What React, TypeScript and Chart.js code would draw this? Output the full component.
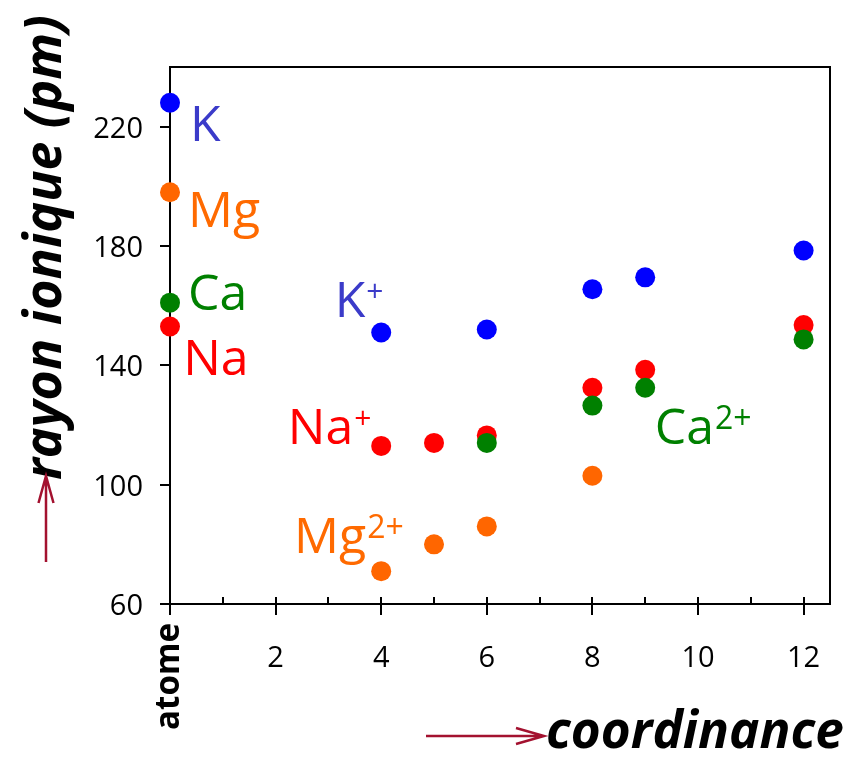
import React, { useEffect, useRef } from "react";
import { Chart, registerables } from "chart.js";

Chart.register(...registerables);

// ---- data ----
const xTickValues = [2, 4, 6, 8, 10, 12];
const xMinorTickValues = [1, 3, 5, 7, 9, 11];
const yTickValues = [60, 100, 140, 180, 220];
const atomCategoryLabel = "atome";

const atomNames = ["K", "Mg", "Ca", "Na"];
const atomRadii = [228, 198, 161, 153];

const kCoord = [4, 6, 8, 9, 12];
const kIonRadii = [151, 152, 165.5, 169.5, 178.5];
const naCoord = [4, 5, 6, 8, 9, 12];
const naIonRadii = [113, 114, 116.5, 132.5, 138.5, 153.5];
const caCoord = [6, 8, 9, 12];
const caIonRadii = [114, 126.5, 132.5, 148.7];
const mgCoord = [4, 5, 6, 8];
const mgIonRadii = [71, 80, 86, 103];

const yTitle = "rayon ionique (pm)";
const xTitle = "coordinance";

// ---- styles ----
const COLORS: Record<string, string> = { K: "#0000ff", Na: "#ff0000", Ca: "#008000", Mg: "#ff6600" };
const LABEL_COLORS: Record<string, string> = { K: "#3b3bc9", Na: "#ff0000", Ca: "#008000", Mg: "#ff6a00" };
const ARROW = "#a3112f";
const FONT = '"Comic Sans MS", "Open Sans", sans-serif';

// label anchors (left, baseline) in data coordinates
const annotations = [
  { el: "K", text: "K", sup: "", x: 0.38, y: 215.2 },
  { el: "Mg", text: "Mg", sup: "", x: 0.34, y: 186.5 },
  { el: "Ca", text: "Ca", sup: "", x: 0.34, y: 158.5 },
  { el: "Na", text: "Na", sup: "", x: 0.25, y: 136.6 },
  { el: "K", text: "K", sup: "+", x: 3.12, y: 156.2 },
  { el: "Na", text: "Na", sup: "+", x: 2.23, y: 113.7 },
  { el: "Mg", text: "Mg", sup: "2+", x: 2.35, y: 77 },
  { el: "Ca", text: "Ca", sup: "2+", x: 9.18, y: 113.7 },
];

function series(name: string, coords: number[], radii: number[]) {
  const i = atomNames.indexOf(name);
  return [{ x: 0, y: atomRadii[i] }, ...coords.map((c, j) => ({ x: c, y: radii[j] }))];
}

function fitSize(ctx: CanvasRenderingContext2D, text: string, style: string, target: number) {
  ctx.font = `${style} 100px ${FONT}`;
  const w = ctx.measureText(text).width;
  return (100 * target) / w;
}

const decorPlugin = {
  id: "decor",
  beforeDatasetsDraw(chart: any) {
    const ctx = chart.ctx as CanvasRenderingContext2D;
    const { left, right, top, bottom } = chart.chartArea;
    const xs = chart.scales.x;
    const ys = chart.scales.y;
    ctx.save();
    ctx.strokeStyle = "#000";
    ctx.lineWidth = 2;
    ctx.beginPath();
    ctx.moveTo(left, top);
    ctx.lineTo(right, top);
    ctx.lineTo(right, bottom);
    ctx.stroke();
    // x major ticks (including 0)
    [0, ...xTickValues].forEach((v) => {
      const px = Math.round(xs.getPixelForValue(v));
      ctx.beginPath();
      ctx.moveTo(px, v === 0 ? bottom : bottom - 7);
      ctx.lineTo(px, bottom + 11);
      ctx.stroke();
    });
    xMinorTickValues.forEach((v) => {
      const px = Math.round(xs.getPixelForValue(v));
      ctx.beginPath();
      ctx.moveTo(px, bottom - 7);
      ctx.lineTo(px, bottom);
      ctx.stroke();
    });
    yTickValues.forEach((v) => {
      const py = Math.round(ys.getPixelForValue(v));
      ctx.beginPath();
      ctx.moveTo(left - 10, py);
      ctx.lineTo(left, py);
      ctx.stroke();
    });
    ctx.restore();
  },
  afterDraw(chart: any) {
    const ctx = chart.ctx as CanvasRenderingContext2D;
    const { left, bottom } = chart.chartArea;
    const xs = chart.scales.x;
    const ys = chart.scales.y;
    ctx.save();
    // tick labels
    ctx.fillStyle = "#000";
    ctx.font = `29px ${FONT}`;
    ctx.textBaseline = "alphabetic";
    ctx.textAlign = "right";
    yTickValues.forEach((v) => {
      ctx.fillText(String(v), left - 27, ys.getPixelForValue(v) + 11);
    });
    ctx.textAlign = "center";
    xTickValues.forEach((v) => {
      ctx.fillText(String(v), xs.getPixelForValue(v), bottom + 63);
    });
    // "atome" rotated
    const aSize = fitSize(ctx, atomCategoryLabel, "bold", 107);
    ctx.save();
    ctx.translate(xs.getPixelForValue(0), bottom + 19);
    ctx.rotate(-Math.PI / 2);
    ctx.font = `bold ${aSize}px ${FONT}`;
    ctx.textAlign = "right";
    ctx.textBaseline = "middle";
    ctx.fillText(atomCategoryLabel, 0, 0);
    ctx.restore();

    // element labels
    annotations.forEach((a) => {
      const px = xs.getPixelForValue(a.x);
      const py = ys.getPixelForValue(a.y);
      ctx.fillStyle = LABEL_COLORS[a.el];
      ctx.textAlign = "left";
      ctx.textBaseline = "alphabetic";
      ctx.font = `50px ${FONT}`;
      ctx.fillText(a.text, px, py);
      if (a.sup) {
        const w = ctx.measureText(a.text).width;
        ctx.font = `${a.sup === "+" ? 30 : 32}px ${FONT}`;
        ctx.fillText(a.sup, px + w + 1, py - (a.sup === "+" ? 16 : 15));
      }
    });

    // axis titles
    ctx.fillStyle = "#000";
    const ySize = fitSize(ctx, yTitle, "italic bold", 465);
    ctx.save();
    ctx.translate(61, 480);
    ctx.rotate(-Math.PI / 2);
    ctx.font = `italic bold ${ySize}px ${FONT}`;
    ctx.textAlign = "left";
    ctx.textBaseline = "alphabetic";
    ctx.fillText(yTitle, 0, 0);
    ctx.restore();

    const xSize = fitSize(ctx, xTitle, "italic bold", 298);
    ctx.font = `italic bold ${xSize}px ${FONT}`;
    ctx.textAlign = "left";
    ctx.textBaseline = "alphabetic";
    ctx.fillText(xTitle, 546, 748);

    // arrows
    ctx.strokeStyle = ARROW;
    ctx.lineWidth = 2.5;
    ctx.beginPath();
    ctx.moveTo(46, 562);
    ctx.lineTo(46, 476);
    ctx.moveTo(38.5, 503);
    ctx.lineTo(46, 476);
    ctx.lineTo(53.5, 503);
    ctx.stroke();
    ctx.beginPath();
    ctx.moveTo(426, 736);
    ctx.lineTo(544, 736);
    ctx.moveTo(516, 728);
    ctx.lineTo(544, 736);
    ctx.lineTo(516, 744);
    ctx.stroke();
    ctx.restore();
  },
};

export default function App() {
  const ref = useRef<HTMLCanvasElement | null>(null);
  useEffect(() => {
    document.body.style.margin = "0";
    document.body.style.overflow = "hidden";
    const canvas = ref.current;
    if (!canvas) return;
    const mk = (name: string, coords: number[], radii: number[], order: number) => ({
      label: name,
      data: series(name, coords, radii),
      backgroundColor: COLORS[name],
      borderColor: COLORS[name],
      borderWidth: 0,
      pointRadius: 10,
      pointHoverRadius: 10,
      showLine: false,
      clip: false as any,
      order,
    });
    const chart = new Chart(canvas, {
      type: "scatter",
      data: {
        datasets: [
          mk("K", kCoord, kIonRadii, 3),
          mk("Mg", mgCoord, mgIonRadii, 2),
          mk("Na", naCoord, naIonRadii, 1),
          mk("Ca", caCoord, caIonRadii, 0),
        ],
      },
      options: {
        animation: false,
        responsive: false,
        maintainAspectRatio: false,
        events: [],
        layout: { padding: { left: 0, top: 67, right: 30, bottom: 0 } },
        plugins: { legend: { display: false }, tooltip: { enabled: false } },
        scales: {
          x: {
            type: "linear",
            min: 0,
            max: 12.5,
            afterBuildTicks: (s: any) => {
              s.ticks = xTickValues.map((v) => ({ value: v }));
            },
            afterFit: (s: any) => {
              s.height = 153;
            },
            ticks: { display: false },
            grid: { display: false, drawTicks: false },
            border: { display: true, color: "#000", width: 2 },
          },
          y: {
            type: "linear",
            min: 60,
            max: 240,
            afterBuildTicks: (s: any) => {
              s.ticks = yTickValues.map((v) => ({ value: v }));
            },
            afterFit: (s: any) => {
              s.width = 170;
            },
            ticks: { display: false },
            grid: { display: false, drawTicks: false },
            border: { display: true, color: "#000", width: 2 },
          },
        },
      },
      plugins: [decorPlugin],
    });
    return () => chart.destroy();
  }, []);
  return (
    <div style={{ width: 860, height: 757 }}>
      <canvas ref={ref} width={860} height={757} style={{ display: "block" }} />
    </div>
  );
}
